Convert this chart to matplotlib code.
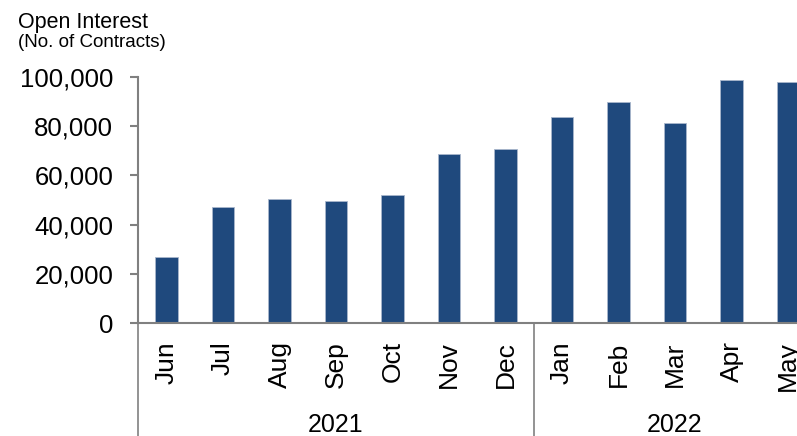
import matplotlib.pyplot as plt
import matplotlib.transforms as mtransforms

plt.rcParams['font.family'] = ['Liberation Sans', 'DejaVu Sans']

# Data
months = ["Jun", "Jul", "Aug", "Sep", "Oct", "Nov", "Dec",
          "Jan", "Feb", "Mar", "Apr", "May"]
open_interest = [26800, 47000, 50300, 49500, 51900, 68800, 70500,
                 83500, 89800, 81100, 98800, 97900]
years = ["2021", "2022"]
year_groups = [(0, 6), (7, 11)]  # first and last month index per year

bar_color = "#1F497D"
axis_color = "#808080"

fig = plt.figure(figsize=(7.97, 4.36), dpi=100)
# axes runs past the right edge, as in the reference (May is cut off)
ax = fig.add_axes([138.25 / 797, 112.7 / 436, 678 / 797, 246.6 / 436])

x = list(range(len(months)))
ax.bar(x, open_interest, width=0.39, color=bar_color,
       edgecolor="#A9B7CC", linewidth=0.6)

ax.set_xlim(-0.5, len(months) - 0.5)
ax.set_ylim(0, 100000)
ax.set_yticks(range(0, 100001, 20000))
ax.set_yticklabels([f"{v:,}" for v in range(0, 100001, 20000)])

for side in ["top", "right"]:
    ax.spines[side].set_visible(False)
for side in ["left", "bottom"]:
    ax.spines[side].set_color(axis_color)
    ax.spines[side].set_linewidth(1.5)

ax.tick_params(axis="y", direction="out", length=6, width=1.5,
               color=axis_color, labelsize=18.5, pad=12)
ax.set_xticks(x)
ax.set_xticklabels(months, rotation=90)
ax.tick_params(axis="x", length=0, labelsize=19, pad=13)

# category separator lines below the axis
trans = mtransforms.blended_transform_factory(ax.transData, ax.transAxes)
ax.plot([0, 0], [0, -0.5], transform=ax.transAxes, color=axis_color,
        linewidth=1.2, clip_on=False)
for (start, end), yr in zip(year_groups, years):
    ax.plot([end + 0.5, end + 0.5], [0, -0.5], transform=trans,
            color=axis_color, linewidth=1.2, clip_on=False)
    ax.text((start + end) / 2, -0.412, yr, transform=trans,
            ha="center", va="center", fontsize=18)

fig.text(18 / 797, (436 - 28) / 436, "Open Interest", fontsize=15.5,
         ha="left", va="baseline")
fig.text(18 / 797, (436 - 47) / 436, "(No. of Contracts)", fontsize=13.5,
         ha="left", va="baseline")

fig.savefig("out.png", dpi=100)
